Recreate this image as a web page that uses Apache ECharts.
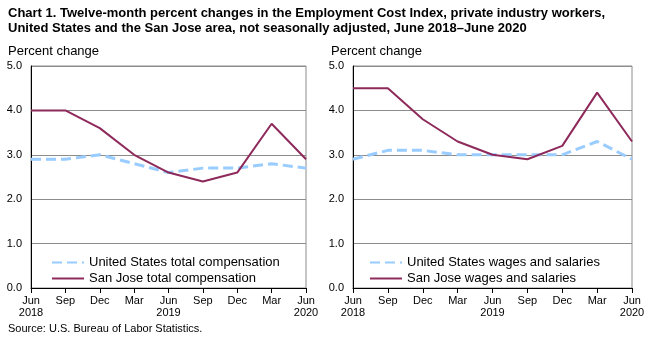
<!DOCTYPE html>
<html>
<head>
<meta charset="utf-8">
<script src="https://cdn.jsdelivr.net/npm/echarts@6/dist/echarts.min.js"></script>
<style>
  html, body { margin: 0; padding: 0; background: #fff; }
  #chart { width: 653px; height: 339px; }
</style>
</head>
<body>
<div id="chart"></div>
<script>
// Quarterly reference periods, June 2018 through June 2020
const quarters = ['Jun\n2018', 'Sep', 'Dec', 'Mar', 'Jun\n2019', 'Sep', 'Dec', 'Mar', 'Jun\n2020'];

// Total compensation, twelve-month percent change
const usTotalComp = [2.9, 2.9, 3.0, 2.8, 2.6, 2.7, 2.7, 2.8, 2.7];
const sjTotalComp = [4.0, 4.0, 3.6, 3.0, 2.6, 2.4, 2.6, 3.7, 2.9];

// Wages and salaries, twelve-month percent change
const usWages = [2.9, 3.1, 3.1, 3.0, 3.0, 3.0, 3.0, 3.3, 2.9];
const sjWages = [4.5, 4.5, 3.8, 3.3, 3.0, 2.9, 3.2, 4.4, 3.3];

const FONT = '"Liberation Sans", Arial, sans-serif';
const US_COLOR = '#99CCFF';
const SJ_COLOR = '#8E2A5B';

const chart = echarts.init(document.getElementById('chart'), null, { renderer: 'canvas' });

function xAxisFor(gridIndex) {
  return {
    type: 'category',
    gridIndex,
    data: quarters,
    boundaryGap: false,
    axisLine: { show: true, lineStyle: { color: '#000', width: 1 } },
    axisTick: { show: true, length: 5, lineStyle: { color: '#000' }, alignWithLabel: true },
    axisLabel: { color: '#000', fontFamily: FONT, fontSize: 11, margin: 7, lineHeight: 12, interval: 0 },
    splitLine: { show: false }
  };
}

function yAxisFor(gridIndex) {
  return {
    type: 'value',
    gridIndex,
    min: 0,
    max: 5,
    interval: 1,
    axisLine: { show: true, lineStyle: { color: '#000', width: 1 } },
    axisTick: { show: false },
    axisLabel: { color: '#000', fontFamily: FONT, fontSize: 11, margin: 9, formatter: v => v.toFixed(1) },
    splitLine: { show: true, lineStyle: { color: '#8C8C8C', width: 1 } }
  };
}

function usSeries(name, data, idx) {
  return {
    name, type: 'line', data, xAxisIndex: idx, yAxisIndex: idx,
    symbol: 'none', smooth: false,
    lineStyle: { color: US_COLOR, width: 3, type: [10, 5] },
    itemStyle: { color: US_COLOR },
    z: 2
  };
}

function sjSeries(name, data, idx) {
  return {
    name, type: 'line', data, xAxisIndex: idx, yAxisIndex: idx,
    symbol: 'none',
    lineStyle: { color: SJ_COLOR, width: 2 },
    itemStyle: { color: SJ_COLOR },
    z: 3
  };
}

function legendFor(left, names) {
  return {
    orient: 'vertical',
    left, top: 251,
    itemWidth: 32, itemHeight: 12, itemGap: 3,
    data: names,
    itemStyle: { opacity: 0 },
    textStyle: { color: '#000', fontFamily: FONT, fontSize: 13 },
    selectedMode: false
  };
}

chart.setOption({
  animation: false,
  backgroundColor: '#fff',
  title: [
    {
      text: 'Chart 1. Twelve-month percent changes in the Employment Cost Index, private industry workers,\nUnited States and the San Jose area, not seasonally adjusted, June 2018\u2013June 2020',
      left: 3, top: 1,
      textStyle: { fontFamily: FONT, fontSize: 13, fontWeight: 'bold', color: '#000', lineHeight: 15 }
    },
    {
      text: 'Percent change', left: 3, top: 40,
      textStyle: { fontFamily: FONT, fontSize: 13, fontWeight: 'normal', color: '#000' }
    },
    {
      text: 'Percent change', left: 326, top: 40,
      textStyle: { fontFamily: FONT, fontSize: 13, fontWeight: 'normal', color: '#000' }
    },
    {
      text: 'Source: U.S. Bureau of Labor Statistics.', left: 3, top: 318,
      textStyle: { fontFamily: FONT, fontSize: 11, fontWeight: 'normal', color: '#000' }
    }
  ],
  grid: [
    { left: 31, right: 347, top: 66, bottom: 51, show: true, borderColor: '#8C8C8C', borderWidth: 1 },
    { left: 353, right: 21, top: 66, bottom: 51, show: true, borderColor: '#8C8C8C', borderWidth: 1 }
  ],
  xAxis: [xAxisFor(0), xAxisFor(1)],
  yAxis: [yAxisFor(0), yAxisFor(1)],
  legend: [
    legendFor(46, ['United States total compensation', 'San Jose total compensation']),
    legendFor(364, ['United States wages and salaries', 'San Jose wages and salaries'])
  ],
  series: [
    usSeries('United States total compensation', usTotalComp, 0),
    sjSeries('San Jose total compensation', sjTotalComp, 0),
    usSeries('United States wages and salaries', usWages, 1),
    sjSeries('San Jose wages and salaries', sjWages, 1)
  ]
});
</script>
</body>
</html>
